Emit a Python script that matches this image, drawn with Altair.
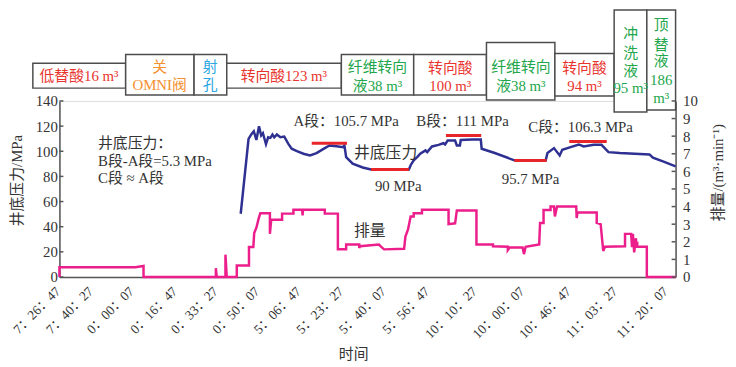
import json
import altair as alt
import pandas as pd

FONT = "Liberation Serif, Noto Sans CJK SC"
INK = "#333333"
AXIS = "#555555"

# ---------------- data ----------------
tick_labels = ["7：26：47", "7：40：27", "0：00：07", "0：16：47", "0：33：27",
               "0：50：07", "5：06：47", "5：23：27", "5：40：07", "5：56：47",
               "10：10：27", "10：00：07", "10：46：47", "11：03：27", "11：20：07"]
# position of each labelled time on the time-index axis
tick_pos = [0.1, 0.855, 1.786, 2.784, 3.715, 4.668, 5.621, 6.597, 7.573, 8.572,
            9.661, 10.751, 11.817, 12.884, 14.041]

# bottom-hole pressure (MPa) vs time index
pressure_x = [4.16, 4.34, 4.41, 4.46, 4.52, 4.58, 4.63, 4.67, 4.74, 4.79, 4.84, 4.89, 4.93,
              4.99, 5.07, 5.16, 5.25, 5.33, 5.45, 5.60, 5.75, 5.90, 6.09, 6.20, 6.36, 6.51,
              6.54, 6.58, 6.73, 6.96, 7.15, 8.02, 8.06, 8.13, 8.21, 8.28, 8.40, 8.44, 8.55,
              8.70, 8.81, 8.85, 8.91, 9.08, 9.12, 9.19, 9.21, 9.46, 9.67, 9.69, 9.99, 10.44,
              11.16, 11.20, 11.35, 11.48, 11.54, 11.73, 11.92, 12.03, 12.26, 12.44, 12.60,
              12.86, 13.54, 13.62, 13.88, 14.14]
pressure_p = [50.3, 109.9, 113.8, 115.9, 109.0, 119.8, 112.5, 114.3, 105.6, 111.1, 110.6, 113.3,
              111.1, 113.3, 111.1, 111.7, 106.0, 102.0, 100.1, 98.0, 96.7, 98.5, 102.5, 104.6,
              104.0, 103.3, 104.6, 95.4, 90.2, 87.1, 85.5, 85.5, 88.9, 92.8, 95.4, 98.0, 100.7,
              99.3, 103.8, 105.1, 106.4, 105.4, 108.5, 108.5, 104.6, 104.6, 109.0, 109.3, 109.3,
              102.0, 98.6, 92.8, 92.8, 98.6, 102.5, 96.7, 101.2, 103.3, 105.4, 103.8, 105.1,
              105.1, 99.3, 98.6, 97.5, 94.9, 91.5, 88.0]

# pumping rate (m3/min) vs time index
flow_x = [0.00, 0.00, 1.74, 1.93, 1.93, 3.59, 3.59, 3.61, 3.81, 3.81, 3.84, 4.07, 4.07, 4.35,
          4.35, 4.45, 4.47, 4.52, 4.57, 4.61, 4.83, 4.83, 4.86, 5.11, 5.11, 5.37, 5.37, 5.57,
          5.58, 5.59, 6.09, 6.09, 6.39, 6.39, 6.58, 6.58, 6.88, 6.88, 6.90, 7.33, 7.38, 7.45,
          7.91, 7.94, 8.00, 8.06, 8.13, 8.13, 8.32, 8.32, 8.93, 8.93, 9.08, 9.12, 9.57, 9.57,
          9.95, 9.95, 10.29, 10.29, 10.33, 10.63, 10.66, 10.70, 11.01, 11.03, 11.11, 11.11,
          11.27, 11.27, 11.35, 11.37, 11.42, 11.86, 11.87, 11.89, 12.33, 12.33, 12.42, 12.48,
          12.52, 12.98, 12.98, 13.12, 13.14, 13.16, 13.19, 13.23, 13.24, 13.26, 13.26, 13.48,
          13.48, 14.14]
flow_q = [0.0, 0.55, 0.55, 0.63, 0.0, 0.0, 0.5, 0.0, 0.0, 1.27, 0.0, 0.0, 0.65, 0.65,
          1.7, 1.7, 2.5, 2.8, 3.3, 3.62, 3.62, 2.45, 3.25, 3.25, 3.6, 3.6, 3.82, 3.82,
          3.5, 3.82, 3.82, 3.6, 3.6, 1.57, 1.57, 1.85, 1.85, 1.65, 1.75, 1.85, 1.72, 1.57,
          1.6, 2.3, 2.7, 3.44, 3.44, 3.62, 3.62, 3.82, 3.82, 3.0, 3.05, 3.78, 3.78, 1.85,
          1.85, 1.75, 1.72, 1.53, 1.67, 1.67, 1.3, 1.72, 1.85, 3.07, 3.07, 3.8,
          3.8, 4.0, 4.0, 3.44, 4.0, 4.0, 3.35, 3.67, 3.67, 3.07, 3.0, 1.48,
          1.72, 1.75, 2.45, 2.45, 1.7, 2.45, 1.4, 2.2, 1.9, 2.0, 1.72, 1.72,
          0.0, 0.0]

# red reference segments (average pressure of each stage)
seg_x0 = [5.79, 7.15, 8.87, 10.44, 11.70]
seg_x1 = [6.60, 8.02, 9.68, 11.18, 12.56]
seg_p = [106.4, 85.5, 112.5, 92.6, 107.7]

# annotations inside the plot (x index, pressure units)
note_text = ["井底压力：", "B段-A段=5.3 MPa", "C段 ≈ A段", "A段：105.7 MPa", "B段：111 MPa",
             "C段：106.3 MPa", "90 MPa", "95.7 MPa"]
note_x = [0.885, 0.885, 0.885, 5.37, 8.19, 10.76, 7.24, 10.15]
note_p = [106.2, 92.0, 78.6, 123.7, 123.7, 119.0, 72.4, 77.9]

curve_text = ["井底压力", "排量"]
curve_x = [6.76, 6.76]
curve_p = [98.9, 36.4]

# stage boxes above the plot (x index, pressure units)
box_x0 = [-0.61, 1.52, 3.09, 3.84, 6.47, 8.13, 9.80, 11.37, 12.73, 13.48]
box_x1 = [1.52, 3.09, 3.84, 6.47, 8.13, 9.80, 11.37, 12.73, 13.48, 14.14]
box_top = [169.9, 177.0, 177.0, 169.9, 177.0, 177.0, 186.4, 177.7, 212.4, 212.4]
box_bottom = [150.2, 144.7, 144.7, 150.2, 144.7, 144.7, 140.8, 143.9, 131.3, 132.9]

stage_text = ["低替酸16 m³", "关", "OMNI阀", "射", "孔", "转向酸123 m³", "纤维转向", "液38 m³",
              "转向酸", "100 m³", "纤维转向", "液38 m³", "转向酸", "94 m³",
              "冲", "洗", "液", "95 m³", "顶", "替", "液", "186", "m³"]
stage_x = [0.45, 2.30, 2.30, 3.46, 3.46, 5.15, 7.30, 7.30, 8.97, 8.97, 10.59, 10.59,
           12.05, 12.05, 13.11, 13.11, 13.11, 13.11, 13.81, 13.81, 13.81, 13.81, 13.81]
stage_p = [160.0, 167.0, 152.3, 167.0, 152.3, 160.0, 166.7, 152.2, 166.2, 151.8, 166.7, 151.8,
           166.2, 151.8, 193.5, 177.7, 163.6, 150.2, 200.6, 184.8, 171.5, 156.5, 142.4]
stage_kind = ["酸", "阀", "阀", "射孔", "射孔", "酸", "液", "液", "酸", "酸", "液", "液",
              "酸", "酸", "液", "液", "液", "液", "液", "液", "液", "液", "液"]

kind_domain = ["酸", "阀", "射孔", "液"]
kind_range = ["#E8342E", "#F4902E", "#2AA6E0", "#22A64B"]

p_ticks = [0, 20, 40, 60, 80, 100, 120, 140]
q_ticks = list(range(11))

# ---------------- frames ----------------
pres_df = pd.DataFrame({"x": pressure_x, "p": pressure_p, "k": range(len(pressure_x))})
flow_df = pd.DataFrame({"x": flow_x, "q": flow_q, "k": range(len(flow_x))})
seg_df = pd.DataFrame({"x": seg_x0, "x2": seg_x1, "p": seg_p})
note_df = pd.DataFrame({"x": note_x, "p": note_p, "t": note_text})
curve_df = pd.DataFrame({"x": curve_x, "p": curve_p, "t": curve_text})
box_df = pd.DataFrame({"x": box_x0, "x2": box_x1, "p": box_top, "p2": box_bottom})
stage_df = pd.DataFrame({"x": stage_x, "p": stage_p, "t": stage_text, "kind": stage_kind})
pt_df = pd.DataFrame({"p": p_ticks})
qt_df = pd.DataFrame({"q": q_ticks})

x_scale = alt.Scale(domain=[0, 14.14], nice=False, zero=False)
p_scale = alt.Scale(domain=[0, 140], nice=False, zero=False)
q_scale = alt.Scale(domain=[0, 10], nice=False, zero=False)

label_expr = (json.dumps(tick_labels, ensure_ascii=False)
              + "[indexof(" + json.dumps(tick_pos) + ", datum.value)]")

x_axis = alt.Axis(values=tick_pos, labelExpr=label_expr, labelAngle=-45,
                  labelAlign="right", labelBaseline="middle", labelFont=FONT,
                  labelFontSize=13.5, labelColor=INK, labelPadding=12, labelOffset=-6,
                  labelOverlap=False, labelFlush=False, labelBound=False, ticks=False,
                  domainColor=AXIS, domainWidth=1.5, grid=False, title="时间",
                  titleFont=FONT, titleFontSize=15, titleFontWeight="normal",
                  titleColor=INK, titleX=297, titleY=77, titleAlign="center",
                  titleBaseline="middle")

p_axis = alt.Axis(values=p_ticks, ticks=False, labelPadding=2, labelFont=FONT,
                  labelFontSize=15, labelColor=INK, domainColor=AXIS, domainWidth=1.5,
                  grid=False, title="井底压力/MPa", titleFont=FONT, titleFontSize=15,
                  titleFontWeight="normal", titleColor=INK, titleAngle=270, titleX=-43,
                  titleY=80, titleAlign="center", titleBaseline="middle")

q_axis = alt.Axis(orient="right", values=q_ticks, ticks=False, labelPadding=7,
                  labelFont=FONT, labelFontSize=15, labelColor=INK, domainColor=AXIS,
                  domainWidth=1.5, grid=False, title="排量/(m³·min⁻¹)", titleFont=FONT,
                  titleFontSize=15, titleFontWeight="normal", titleColor=INK,
                  titleAngle=270, titleX=42, titleY=72, titleAlign="center",
                  titleBaseline="middle")


def X(field="x"):
    return alt.X(f"{field}:Q", scale=x_scale, axis=x_axis)


def P(field="p"):
    return alt.Y(f"{field}:Q", scale=p_scale, axis=p_axis)


def Q(field="q"):
    return alt.Y(f"{field}:Q", scale=q_scale, axis=q_axis)


# ---------------- pressure-scale layers ----------------
boxes = alt.Chart(box_df).mark_rect(fill="white", stroke="#4d4d4d", strokeWidth=1.5).encode(
    x=X(), x2="x2:Q", y=P(), y2="p2:Q")

stage_labels = alt.Chart(stage_df).mark_text(font=FONT, fontSize=15, align="center",
                                              baseline="middle").encode(
    x=X(), y=P(), text="t:N",
    color=alt.Color("kind:N", scale=alt.Scale(domain=kind_domain, range=kind_range),
                    legend=None))

p_line = alt.Chart(pres_df).mark_line(color="#2E3192", strokeWidth=2.5).encode(
    x=X(), y=P(), order="k:Q")

segs = alt.Chart(seg_df).mark_rule(color="#E8262A", strokeWidth=3).encode(
    x=X(), x2="x2:Q", y=P())

notes = alt.Chart(note_df).mark_text(font=FONT, fontSize=15, align="left",
                                     baseline="middle", color=INK).encode(
    x=X(), y=P(), text="t:N")

curve_notes = alt.Chart(curve_df).mark_text(font=FONT, fontSize=16, align="left",
                                            baseline="middle", color=INK).encode(
    x=X(), y=P(), text="t:N")

p_tick_marks = alt.Chart(pt_df).mark_rule(color=AXIS, strokeWidth=1.5).encode(
    x=alt.value(0), x2=alt.value(4), y=P())

pressure_group = alt.layer(p_line, boxes, segs, notes, curve_notes, p_tick_marks,
                           stage_labels)

# ---------------- flow-scale layers ----------------
q_line = alt.Chart(flow_df).mark_line(color="#EC1E8C", strokeWidth=2.5).encode(
    x=X(), y=Q(), order="k:Q")

q_tick_marks = alt.Chart(qt_df).mark_rule(color=AXIS, strokeWidth=1.5).encode(
    x=alt.value(619), x2=alt.value(623), y=Q())

flow_group = alt.layer(q_line, q_tick_marks)

chart = alt.layer(pressure_group, flow_group).resolve_scale(y="independent").properties(
    width=623, height=178,
    autosize=alt.AutoSizeParams(type="none"),
    padding={"left": 52, "top": 92, "right": 53, "bottom": 88},
).configure_view(stroke=None).configure(background="white")

chart.save("out.html", embed_options={"renderer": "svg", "actions": False})
